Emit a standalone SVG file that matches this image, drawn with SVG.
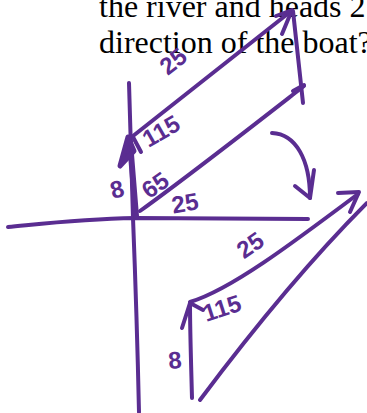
<svg xmlns="http://www.w3.org/2000/svg" width="367" height="413" viewBox="0 0 367 413">
<style>
.q{font-family:"Liberation Serif","Times New Roman",serif;font-size:32px;fill:#000}
.ink{fill:none;stroke:#5a2d91;stroke-width:4;stroke-linecap:round;stroke-linejoin:round}
.lb{font-family:"Liberation Sans","DejaVu Sans",sans-serif;font-size:24px;font-weight:bold;fill:#5a2d91;text-anchor:middle;dominant-baseline:central}
</style>
<rect width="367" height="413" fill="#fff"/>
<g id="question">
<text class="q" x="99" y="17">the river and heads 2</text>
<text class="q" x="99" y="53">direction of the boat?</text>
</g>
<g id="connectors">
<path id="x-axis" class="ink" d="M8,227 C40,224 80,219 135,218 L308,219"/>
<path id="y-axis" class="ink" d="M129,83 L133,218 Q137,320 139,412"/>
<path id="current-8" class="ink" style="stroke-width:6" d="M136,216 L130,142"/>
<path class="ink" style="stroke-width:5;fill:#5a2d91" d="M120,166 L128,137 L134,151 Z"/>
<path id="boat-25" class="ink" d="M133,136 L290,12"/>
<path class="ink" d="M276,16 L292,10 L282,34"/>
<path id="side-8" class="ink" d="M293,11 L303,103"/>
<path id="resultant" class="ink" d="M140,211 C190,175 250,128 304,86"/>
<path class="ink" d="M293,91 L304,85"/>
<path class="ink" d="M133,137 L141,152"/>
<path id="curve" class="ink" d="M272,133 C296,134 310,160 310,198"/>
<path class="ink" d="M295,186 L310,198 L314,170"/>
<path id="tri-25" class="ink" d="M190,302 C230,290 290,245 358,194"/>
<path class="ink" d="M338,193 L359,192 L350,212"/>
<path id="tri-side" class="ink" d="M367,203 C320,250 260,320 200,400"/>
<path id="tri-8" class="ink" d="M192,398 C191,360 190,330 190,304"/>
<path class="ink" d="M182,328 L190,303 L203,310"/>
</g>
<g id="labels">
<text class="lb" transform="translate(173,61) rotate(-38)">25</text>
<text class="lb" transform="translate(161,131) rotate(-30)">115</text>
<text class="lb" transform="translate(155,185) rotate(-35)">65</text>
<text class="lb" transform="translate(185,203) rotate(-10)">25</text>
<text class="lb" transform="translate(117,189) rotate(-15)">8</text>
<text class="lb" transform="translate(250,245) rotate(-35)">25</text>
<text class="lb" transform="translate(222,308) rotate(-18)">115</text>
<text class="lb" transform="translate(175,360) rotate(-5)">8</text>
</g>
</svg>
